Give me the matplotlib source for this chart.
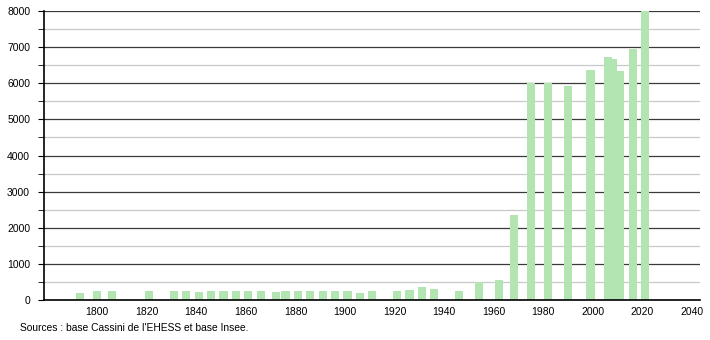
import matplotlib.pyplot as plt
from matplotlib.ticker import MultipleLocator

plt.rcParams['font.family'] = ['Liberation Sans', 'DejaVu Sans']

# Population par année de recensement
annees = [1793, 1800, 1806, 1821, 1831, 1836, 1841, 1846, 1851, 1856,
          1861, 1866, 1872, 1876, 1881, 1886, 1891, 1896, 1901, 1906,
          1911, 1921, 1926, 1931, 1936, 1946, 1954, 1962, 1968, 1975,
          1982, 1990, 1999, 2006, 2008, 2011, 2016, 2021]
population = [190, 250, 250, 250, 260, 260, 210, 250, 250, 250,
              260, 260, 230, 260, 260, 260, 260, 240, 240, 200,
              250, 250, 280, 350, 300, 250, 500, 560, 2350, 6020,
              6000, 5930, 6370, 6730, 6670, 6340, 6950, 8000]

fig = plt.figure(figsize=(7.1, 3.4), dpi=100)
ax = fig.add_axes([0.062, 0.1176, 0.924, 0.85])

ax.bar(annees, population, width=3.3, color='#b2e5b2', zorder=3)

ax.set_xlim(1778.6, 2043.2)
ax.set_ylim(0, 8000)
ax.set_xticks(range(1800, 2041, 20))
ax.yaxis.set_major_locator(MultipleLocator(1000))
ax.yaxis.set_minor_locator(MultipleLocator(500))

ax.grid(axis='y', which='major', color='#3a3a3a', linewidth=0.9, zorder=1)
ax.grid(axis='y', which='minor', color='#c8c8c8', linewidth=0.9, zorder=1)

for s in ['top', 'right']:
    ax.spines[s].set_visible(False)
ax.spines['left'].set_linewidth(1.2)
ax.spines['bottom'].set_linewidth(1.2)
ax.spines['left'].set_zorder(4)
ax.spines['bottom'].set_zorder(4)

ax.tick_params(axis='x', length=0, labelsize=7.5, pad=5)
ax.tick_params(axis='y', which='major', length=4, labelsize=7.5, pad=6)
ax.tick_params(axis='y', which='minor', length=4)

fig.text(20 / 710, 1 - 328 / 340, "Sources : base Cassini de l'EHESS et base Insee.",
         fontsize=7.4, va='center', ha='left')

fig.savefig('out.png', dpi=100)
